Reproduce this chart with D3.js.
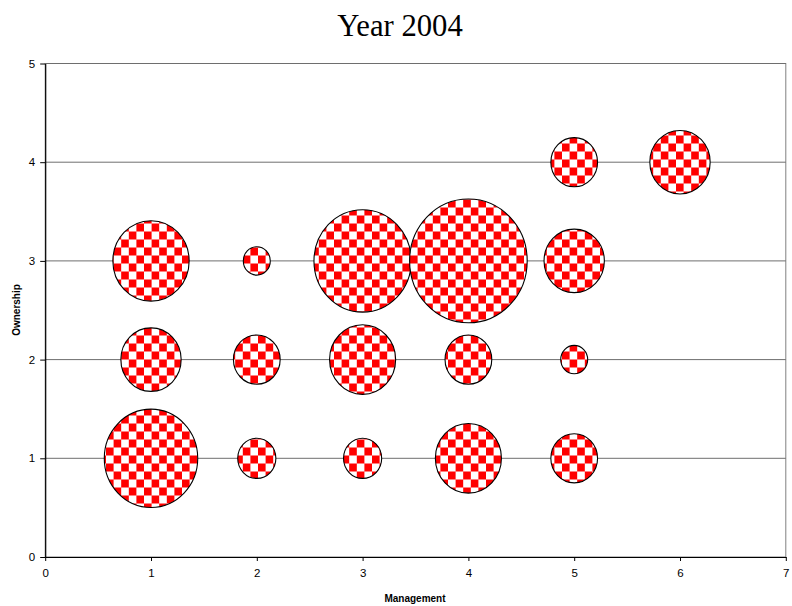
<!DOCTYPE html>
<html>
<head>
<meta charset="utf-8">
<script src="https://cdn.jsdelivr.net/npm/d3@7"></script>
<style>
  html, body { margin: 0; padding: 0; background: #fff; }
  svg { display: block; }
</style>
</head>
<body>
<svg id="chart" width="792" height="606"></svg>
<script>
// Bubble data: management level, ownership level, bubble size
const management = [1, 2, 3, 4, 5,   1, 2, 3, 4, 5,   1, 2, 3, 4, 5,   5, 6];
const ownership  = [1, 1, 1, 1, 1,   2, 2, 2, 2, 2,   3, 3, 3, 3, 3,   4, 4];
const bubbleSize = [12, 2, 2, 6, 3,  5, 3, 6, 3, 1,   8, 1, 13, 19, 5, 3, 5];

const xTicks = [0, 1, 2, 3, 4, 5, 6, 7];
const yTicks = [0, 1, 2, 3, 4, 5];

const titleText = "Year 2004";
const xTitle = "Management";
const yTitle = "Ownership";

const svg = d3.select("#chart");

const x = d3.scaleLinear().domain([0, 7]).range([45.2, 785.8]);
const y = d3.scaleLinear().domain([0, 5]).range([557, 63.5]);
// bubble area proportional to size; vertical radius a touch taller
const r = d3.scaleSqrt().domain([0, 19]).range([0, 58.8]);
const aspect = 1.053;

// checkerboard fill
const cw = 7.6, ch = 8;
const defs = svg.append("defs");
const pat = defs.append("pattern")
  .attr("id", "checker")
  .attr("patternUnits", "userSpaceOnUse")
  .attr("x", 45.2).attr("y", 63.5)
  .attr("width", cw * 2).attr("height", ch * 2);
pat.append("rect").attr("width", cw * 2).attr("height", ch * 2).attr("fill", "#ffffff");
pat.append("rect").attr("x", 0).attr("y", 0).attr("width", cw).attr("height", ch).attr("fill", "#ff0000");
pat.append("rect").attr("x", cw).attr("y", ch).attr("width", cw).attr("height", ch).attr("fill", "#ff0000");

// title
svg.append("text")
  .attr("x", 400).attr("y", 36)
  .attr("text-anchor", "middle")
  .attr("font-family", "'Liberation Serif', 'Times New Roman', serif")
  .attr("font-size", 31)
  .attr("transform", "translate(400,0) scale(0.99,1) translate(-400,0)")
  .text(titleText);

// plot area border
svg.append("rect")
  .attr("x", x(0)).attr("y", y(5))
  .attr("width", x(7) - x(0)).attr("height", y(0) - y(5))
  .attr("fill", "none").attr("stroke", "#808080").attr("stroke-width", 1);

// horizontal gridlines
svg.append("g").selectAll("line")
  .data(yTicks.filter(d => d > 0))
  .join("line")
  .attr("x1", x(0)).attr("x2", x(7))
  .attr("y1", d => y(d)).attr("y2", d => y(d))
  .attr("stroke", "#6e6e6e").attr("stroke-width", 1);

// bubbles
const pts = management.map((m, i) => ({ m, o: ownership[i], s: bubbleSize[i] }));
svg.append("g").selectAll("ellipse")
  .data(pts)
  .join("ellipse")
  .attr("cx", d => x(d.m))
  .attr("cy", d => y(d.o))
  .attr("rx", d => r(d.s))
  .attr("ry", d => r(d.s) * aspect)
  .attr("fill", "url(#checker)")
  .attr("stroke", "#000").attr("stroke-width", 1.1);

// axes
const axisFont = "'Liberation Sans', Arial, sans-serif";
const xAxis = svg.append("g")
  .attr("transform", `translate(0,${y(0)})`)
  .call(d3.axisBottom(x).tickValues(xTicks).tickFormat(d3.format("d")).tickSizeInner(4).tickSizeOuter(0).tickPadding(8));
const yAxis = svg.append("g")
  .attr("transform", `translate(${x(0)},0)`)
  .call(d3.axisLeft(y).tickValues(yTicks).tickFormat(d3.format("d")).tickSizeInner(5).tickSizeOuter(0).tickPadding(5));
[xAxis, yAxis].forEach(g => {
  g.select(".domain").attr("stroke", "#000").attr("stroke-width", 1.2);
  g.selectAll(".tick line").attr("stroke", "#000");
  g.selectAll(".tick text").attr("font-family", axisFont).attr("font-size", 11.5).attr("fill", "#000");
});

// axis titles
svg.append("text")
  .attr("x", 415).attr("y", 602)
  .attr("text-anchor", "middle")
  .attr("font-family", axisFont).attr("font-weight", "bold").attr("font-size", 10)
  .text(xTitle);
svg.append("text")
  .attr("transform", `translate(20,310) rotate(-90)`)
  .attr("text-anchor", "middle")
  .attr("font-family", axisFont).attr("font-weight", "bold").attr("font-size", 10)
  .text(yTitle);
</script>
</body>
</html>
